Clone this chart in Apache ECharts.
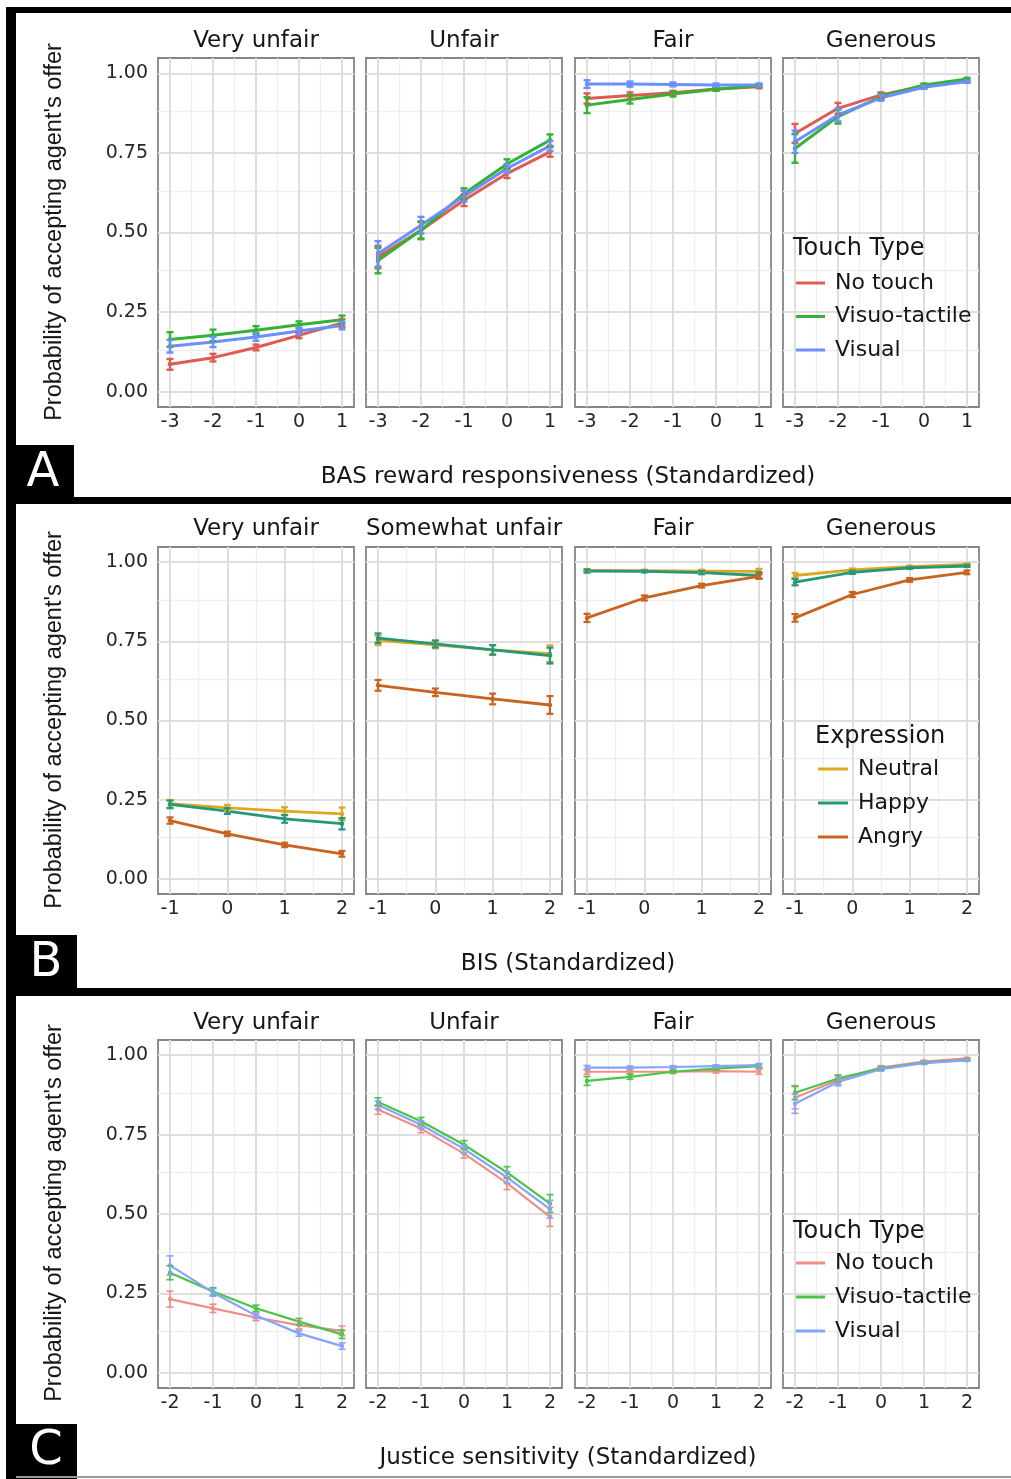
<!DOCTYPE html>
<html><head><meta charset="utf-8">
<script src="https://cdn.jsdelivr.net/npm/echarts@6/dist/echarts.min.js"></script>
<style>html,body{margin:0;padding:0;background:#fff}#c{width:1011px;height:1479px}</style>
</head><body><div id="c"></div>
<script>
// ---------------- data ----------------
const facetsA = ['Very unfair', 'Unfair', 'Fair', 'Generous'];
const facetsB = ['Very unfair', 'Somewhat unfair', 'Fair', 'Generous'];
const facetsC = ['Very unfair', 'Unfair', 'Fair', 'Generous'];
const xA = [-3, -2, -1, 0, 1];
const xB = [-1, 0, 1, 2];
const xC = [-2, -1, 0, 1, 2];
const touchTypes = ['No touch', 'Visuo-tactile', 'Visual'];
const expressions = ['Neutral', 'Happy', 'Angry'];
const yTicks = [0, 0.25, 0.5, 0.75, 1];
const xTitleA = 'BAS reward responsiveness (Standardized)';
const xTitleB = 'BIS (Standardized)';
const xTitleC = 'Justice sensitivity (Standardized)';
const yTitle = "Probability of accepting agent's offer";

// Panel A (per facet: Very unfair, Unfair, Fair, Generous)
const aNoTouch = [
  [0.086, 0.107, 0.139, 0.177, 0.216],
  [0.423, 0.507, 0.601, 0.685, 0.753],
  [0.921, 0.930, 0.939, 0.951, 0.958],
  [0.811, 0.890, 0.932, 0.960, 0.977]];
const aNoTouchErr = [
  [0.017, 0.012, 0.009, 0.009, 0.012],
  [0.035, 0.028, 0.018, 0.014, 0.015],
  [0.016, 0.010, 0.006, 0.005, 0.005],
  [0.030, 0.017, 0.008, 0.005, 0.004]];
const aVisuo = [
  [0.164, 0.177, 0.193, 0.210, 0.226],
  [0.412, 0.507, 0.622, 0.715, 0.790],
  [0.900, 0.918, 0.935, 0.950, 0.961],
  [0.764, 0.864, 0.927, 0.963, 0.982]];
const aVisuoErr = [
  [0.023, 0.018, 0.013, 0.011, 0.013],
  [0.040, 0.026, 0.017, 0.015, 0.018],
  [0.025, 0.013, 0.008, 0.005, 0.004],
  [0.045, 0.022, 0.009, 0.005, 0.004]];
const aVisual = [
  [0.143, 0.156, 0.172, 0.191, 0.208],
  [0.433, 0.523, 0.614, 0.701, 0.772],
  [0.966, 0.966, 0.965, 0.963, 0.963],
  [0.785, 0.869, 0.923, 0.956, 0.974]];
const aVisualErr = [
  [0.020, 0.016, 0.012, 0.010, 0.012],
  [0.040, 0.026, 0.017, 0.014, 0.016],
  [0.012, 0.008, 0.006, 0.005, 0.005],
  [0.035, 0.020, 0.009, 0.005, 0.004]];

// Panel B
const bNeutral = [
  [0.237, 0.224, 0.214, 0.205],
  [0.753, 0.739, 0.723, 0.711],
  [0.974, 0.973, 0.972, 0.971],
  [0.958, 0.976, 0.986, 0.993]];
const bNeutralErr = [
  [0.012, 0.009, 0.012, 0.020],
  [0.015, 0.011, 0.015, 0.026],
  [0.004, 0.003, 0.004, 0.008],
  [0.008, 0.004, 0.003, 0.003]];
const bHappy = [
  [0.235, 0.214, 0.189, 0.174],
  [0.760, 0.742, 0.723, 0.705],
  [0.972, 0.971, 0.967, 0.958],
  [0.937, 0.968, 0.982, 0.988]];
const bHappyErr = [
  [0.012, 0.009, 0.012, 0.018],
  [0.015, 0.011, 0.015, 0.025],
  [0.005, 0.003, 0.005, 0.010],
  [0.010, 0.005, 0.003, 0.003]];
const bAngry = [
  [0.184, 0.142, 0.107, 0.079],
  [0.611, 0.589, 0.568, 0.549],
  [0.824, 0.887, 0.926, 0.955],
  [0.824, 0.898, 0.944, 0.968]];
const bAngryErr = [
  [0.010, 0.007, 0.007, 0.009],
  [0.017, 0.012, 0.017, 0.028],
  [0.013, 0.008, 0.006, 0.007],
  [0.012, 0.008, 0.006, 0.006]];

// Panel C
const cNoTouch = [
  [0.232, 0.203, 0.174, 0.150, 0.132],
  [0.829, 0.769, 0.690, 0.597, 0.491],
  [0.948, 0.948, 0.948, 0.950, 0.948],
  [0.866, 0.922, 0.961, 0.980, 0.990]];
const cNoTouchErr = [
  [0.025, 0.013, 0.010, 0.012, 0.015],
  [0.015, 0.013, 0.014, 0.020, 0.030],
  [0.008, 0.006, 0.005, 0.006, 0.008],
  [0.035, 0.013, 0.006, 0.004, 0.003]];
const cVisuo = [
  [0.315, 0.256, 0.203, 0.161, 0.121],
  [0.853, 0.792, 0.718, 0.631, 0.533],
  [0.919, 0.932, 0.948, 0.958, 0.966],
  [0.882, 0.927, 0.959, 0.977, 0.985]];
const cVisuoErr = [
  [0.022, 0.012, 0.010, 0.010, 0.013],
  [0.013, 0.012, 0.013, 0.018, 0.028],
  [0.014, 0.008, 0.005, 0.005, 0.006],
  [0.022, 0.011, 0.006, 0.004, 0.003]];
const cVisual = [
  [0.338, 0.253, 0.180, 0.124, 0.084],
  [0.843, 0.781, 0.705, 0.615, 0.515],
  [0.961, 0.961, 0.963, 0.966, 0.969],
  [0.847, 0.916, 0.956, 0.975, 0.984]];
const cVisualErr = [
  [0.030, 0.012, 0.009, 0.009, 0.010],
  [0.013, 0.012, 0.013, 0.018, 0.028],
  [0.007, 0.005, 0.004, 0.004, 0.005],
  [0.030, 0.012, 0.006, 0.004, 0.003]];

// ---------------- layout / style ----------------
const FONT_H = 'DejaVu Sans';
const FONT_V = 'Liberation Sans';
const TXT = '#161616';
const TICK_TXT = '#262626';
const facetLeft = [158, 366, 575, 783];
const facetW = 196;
const panels = [
  { top: 58, h: 349, xs: xA, xr: [-3.279, 1.279], facets: facetsA, groups: touchTypes, suffix: '',
    vals: [aNoTouch, aVisuo, aVisual], errs: [aNoTouchErr, aVisuoErr, aVisualErr],
    colors: ['#de5d52', '#33b233', '#6b8ffc'], lw: 3.0 },
  { top: 547, h: 347, xs: xB, xr: [-1.21, 2.21], facets: facetsB, groups: expressions, suffix: '',
    vals: [bNeutral, bHappy, bAngry], errs: [bNeutralErr, bHappyErr, bAngryErr],
    colors: ['#dba821', '#23987a', '#c8641f'], lw: 2.8 },
  { top: 1040, h: 348, xs: xC, xr: [-2.279, 2.279], facets: facetsC, groups: touchTypes, suffix: ' ',
    vals: [cNoTouch, cVisuo, cVisual], errs: [cNoTouchErr, cVisuoErr, cVisualErr],
    colors: ['#ee8f86', '#49c449', '#85a4ff'], lw: 2.2 }
];
const yMin = -0.048, yMax = 1.048;

const grids = [], xAxes = [], yAxes = [], series = [];

panels.forEach((P, p) => {
  const xMinor = [];
  for (let i = 0; i < P.xs.length - 1; i++) xMinor.push((P.xs[i] + P.xs[i + 1]) / 2);
  const yMinor = [];
  for (let i = 0; i < yTicks.length - 1; i++) yMinor.push((yTicks[i] + yTicks[i + 1]) / 2);
  for (let f = 0; f < 4; f++) {
    const g = p * 4 + f;
    grids.push({ left: facetLeft[f], top: P.top, width: facetW, height: P.h, show: true,
      backgroundColor: '#ffffff', borderColor: '#858585', borderWidth: 1.8 });
    xAxes.push({ type: 'value', gridIndex: g, min: P.xr[0], max: P.xr[1],
      axisLine: { show: false }, splitLine: { show: false },
      axisTick: { show: true, length: 5, customValues: P.xs, lineStyle: { color: '#444', width: 1.6 } },
      axisLabel: { show: true, customValues: P.xs, margin: 6, fontSize: 19, fontFamily: FONT_H, color: TICK_TXT,
        formatter: v => String(v) } });
    yAxes.push({ type: 'value', gridIndex: g, min: yMin, max: yMax,
      axisLine: { show: false }, splitLine: { show: false },
      axisTick: { show: f === 0, length: 5, customValues: yTicks, lineStyle: { color: '#444', width: 1.6 } },
      axisLabel: { show: f === 0, customValues: yTicks, margin: 10, fontSize: 19, fontFamily: FONT_H, color: TICK_TXT,
        formatter: v => Number(v).toFixed(2) } });

    const gridLines = [];
    yMinor.forEach(v => gridLines.push({ yAxis: v, lineStyle: { color: '#eeeeee', width: 1.3, type: 'solid' } }));
    xMinor.forEach(v => gridLines.push({ xAxis: v, lineStyle: { color: '#eeeeee', width: 1.3, type: 'solid' } }));
    yTicks.forEach(v => gridLines.push({ yAxis: v, lineStyle: { color: '#dedede', width: 2, type: 'solid' } }));
    P.xs.forEach(v => gridLines.push({ xAxis: v, lineStyle: { color: '#dedede', width: 2, type: 'solid' } }));

    P.groups.forEach((name, k) => {
      const vals = P.vals[k][f];
      const s = {
        type: 'line', name: name + P.suffix, xAxisIndex: g, yAxisIndex: g,
        data: P.xs.map((x, i) => [x, vals[i]]),
        color: P.colors[k], lineStyle: { width: P.lw, color: P.colors[k] },
        itemStyle: { color: P.colors[k] },
        symbol: 'circle', symbolSize: 4.5, showSymbol: true, silent: true, z: 3
      };
      if (k === 0) {
        s.markLine = { silent: true, symbol: 'none', z: 1, animation: false,
          label: { show: false }, emphasis: { disabled: true }, data: gridLines };
      }
      series.push(s);
    });
    P.groups.forEach((name, k) => {
      const vals = P.vals[k][f], errs = P.errs[k][f], col = P.colors[k];
      series.push({
        type: 'custom', xAxisIndex: g, yAxisIndex: g, silent: true, z: 4,
        data: P.xs.map((x, i) => [x, vals[i] - errs[i], vals[i] + errs[i]]),
        encode: { x: 0, y: [1, 2] },
        renderItem: (params, api) => {
          const x = api.value(0);
          const lo = api.coord([x, api.value(1)]);
          const hi = api.coord([x, api.value(2)]);
          const w = 3.5;
          const st = { stroke: col, lineWidth: Math.max(1.6, P.lw - 0.6) };
          return { type: 'group', children: [
            { type: 'line', shape: { x1: lo[0], y1: lo[1], x2: hi[0], y2: hi[1] }, style: st },
            { type: 'line', shape: { x1: lo[0] - w, y1: lo[1], x2: lo[0] + w, y2: lo[1] }, style: st },
            { type: 'line', shape: { x1: hi[0] - w, y1: hi[1], x2: hi[0] + w, y2: hi[1] }, style: st }
          ] };
        }
      });
    });
  }
});

// legends
const legendBase = {
  orient: 'vertical', icon: 'rect', itemHeight: 3, selectedMode: false, padding: 0,
  textStyle: { fontSize: 22, lineHeight: 24, color: TXT, fontFamily: FONT_H, padding: [0, 0, 0, 5] },
  formatter: n => n.trim()
};
const legends = [
  Object.assign({}, legendBase, { data: touchTypes, left: 796, top: 271, itemWidth: 29, itemGap: 9.5 }),
  Object.assign({}, legendBase, { data: expressions, left: 818, top: 757, itemWidth: 30, itemGap: 10 }),
  Object.assign({}, legendBase, { data: touchTypes.map(n => n + ' '), left: 796, top: 1251, itemWidth: 29, itemGap: 10 })
];

// graphics (frame, labels, titles)
const graphic = [];
function rect(x, y, w, h, fill) { graphic.push({ type: 'rect', shape: { x, y, width: w, height: h }, style: { fill }, z: 10 }); }
function text(str, x, y, size, opts) {
  opts = opts || {};
  graphic.push({ type: 'text', x, y, rotation: opts.rot || 0, z: 11,
    style: { text: str, fontSize: size, fontFamily: opts.font || FONT_H, fill: opts.color || TXT,
      align: opts.align || 'center', verticalAlign: 'middle', textAlign: opts.align || 'center', textVerticalAlign: 'middle' } });
}
rect(6, 7, 1005, 6, '#000');
rect(6, 7, 10, 1472, '#000');
rect(6, 497, 1005, 7, '#000');
rect(6, 988, 1005, 8, '#000');
rect(6, 445, 68, 52, '#000');
rect(6, 935, 71, 53, '#000');
rect(6, 1424, 71, 55, '#000');
rect(16, 1476, 995, 2, '#9a9a9a');
text('A', 43, 474, 48, { color: '#fff' });
text('B', 46, 964, 48, { color: '#fff' });
text('C', 46, 1452, 48, { color: '#fff' });

const stripY = [41, 529, 1023];
const xTitleY = [477, 964, 1458];
const yTitleY = [232, 720, 1213];
const xTitles = [xTitleA, xTitleB, xTitleC];
panels.forEach((P, p) => {
  P.facets.forEach((name, f) => text(name, facetLeft[f] + facetW / 2, stripY[p], 23));
  text(xTitles[p], 568, xTitleY[p], 23);
  text(yTitle, 55, yTitleY[p], 23.5, { rot: Math.PI / 2, font: FONT_V });
});
text('Touch Type', 793, 249, 24, { align: 'left' });
text('Expression', 815, 737, 24, { align: 'left' });
text('Touch Type', 793, 1232, 24, { align: 'left' });

const chart = echarts.init(document.getElementById('c'), null, { renderer: 'canvas' });
chart.setOption({
  animation: false,
  backgroundColor: '#ffffff',
  grid: grids, xAxis: xAxes, yAxis: yAxes, series, legend: legends, graphic
});
</script></body></html>
